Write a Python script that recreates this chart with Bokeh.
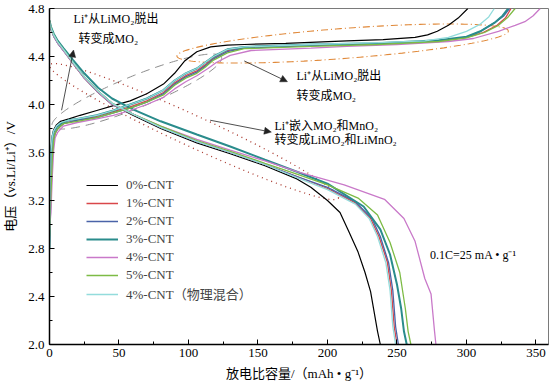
import numpy as np
from bokeh.plotting import figure
from bokeh.models import (Label, Arrow, NormalHead, Legend, LegendItem, FixedTicker,
                          PrintfTickFormatter, Range1d)
from bokeh.embed import file_html
from bokeh.resources import INLINE

# ---------------- data ----------------
names = ["0%-CNT", "1%-CNT", "2%-CNT", "3%-CNT", "4%-CNT", "5%-CNT", "4%-CNT（物理混合）"]
colors = ["#000000", "#d9474a", "#4a63a8", "#2a8c8c", "#c979c9", "#7dbb45", "#93dcdc"]
widths = [1.2, 1.3, 1.3, 2.0, 1.3, 1.3, 1.3]

# charge curves (capacity, voltage)
c0_x = [0, 0.5, 1, 2, 3, 5, 8, 14, 22, 34, 46, 58, 70, 82, 90, 97, 106, 116, 128, 140, 170, 214, 240, 263, 272, 279, 287, 294, 301]
c0_y = [2.95, 3.3, 3.6, 3.74, 3.79, 3.83, 3.86, 3.88, 3.91, 3.95, 3.99, 4.03, 4.09, 4.17, 4.26, 4.36, 4.44, 4.48, 4.495, 4.50, 4.51, 4.53, 4.54, 4.56, 4.58, 4.61, 4.66, 4.72, 4.80]
c1_x = [0, 1, 2, 3, 4, 6, 10, 20, 34, 46, 58, 70, 82, 90, 98, 106, 112, 118, 128, 140, 188, 236, 280, 300, 312, 322, 328, 332]
c1_y = [2.90, 3.25, 3.55, 3.70, 3.76, 3.80, 3.84, 3.87, 3.90, 3.94, 3.98, 4.03, 4.10, 4.18, 4.24, 4.28, 4.33, 4.39, 4.45, 4.475, 4.49, 4.505, 4.53, 4.56, 4.60, 4.66, 4.72, 4.80]
c2_x = [0, 1, 2, 3, 4, 6, 10, 20, 34, 46, 58, 70, 82, 90, 98, 106, 112, 118, 128, 140, 188, 236, 280, 300, 310, 320, 327, 331]
c2_y = [2.85, 3.20, 3.55, 3.70, 3.76, 3.80, 3.84, 3.87, 3.89, 3.93, 3.97, 4.02, 4.09, 4.17, 4.23, 4.27, 4.32, 4.38, 4.44, 4.47, 4.49, 4.505, 4.53, 4.56, 4.61, 4.68, 4.74, 4.80]
c3_x = [0, 0.5, 1, 2, 3, 5, 8, 14, 20, 34, 46, 58, 70, 82, 90, 98, 106, 112, 118, 128, 140, 188, 236, 280, 300, 310, 320, 326, 330]
c3_y = [2.80, 3.3, 3.6, 3.72, 3.77, 3.81, 3.84, 3.87, 3.88, 3.91, 3.95, 4.00, 4.05, 4.12, 4.20, 4.26, 4.30, 4.35, 4.40, 4.46, 4.48, 4.50, 4.51, 4.535, 4.565, 4.61, 4.68, 4.74, 4.80]
c4_x = [0, 1, 2, 3, 4, 6, 10, 20, 34, 46, 58, 70, 82, 90, 98, 106, 114, 120, 130, 145, 188, 214, 250, 287, 305, 323, 335, 342, 348, 353]
c4_y = [2.95, 3.1, 3.4, 3.62, 3.72, 3.77, 3.82, 3.85, 3.88, 3.91, 3.95, 4.00, 4.06, 4.13, 4.19, 4.24, 4.30, 4.35, 4.41, 4.45, 4.47, 4.485, 4.50, 4.525, 4.55, 4.61, 4.66, 4.69, 4.74, 4.80]
c5_x = [0, 1, 2, 3, 4, 6, 10, 20, 34, 46, 58, 70, 82, 90, 98, 106, 112, 118, 128, 140, 188, 236, 280, 300, 313, 323, 330, 335]
c5_y = [2.90, 3.25, 3.55, 3.70, 3.76, 3.80, 3.84, 3.86, 3.89, 3.93, 3.97, 4.02, 4.08, 4.16, 4.22, 4.26, 4.31, 4.37, 4.43, 4.465, 4.485, 4.50, 4.525, 4.555, 4.60, 4.66, 4.73, 4.80]
c6_x = [0, 0.5, 1, 2, 3, 5, 8, 14, 20, 34, 46, 58, 70, 82, 90, 98, 106, 112, 118, 128, 140, 188, 236, 270, 287, 300, 310, 316, 320]
c6_y = [2.85, 3.3, 3.6, 3.73, 3.78, 3.82, 3.85, 3.87, 3.88, 3.91, 3.95, 4.00, 4.05, 4.12, 4.20, 4.26, 4.30, 4.35, 4.40, 4.46, 4.48, 4.50, 4.515, 4.53, 4.56, 4.61, 4.67, 4.73, 4.80]

# discharge curves
d0_x = [0, 1, 3, 6, 10, 17, 25, 35, 45, 60, 80, 106, 130, 155, 178, 188, 200, 209, 215, 222, 227, 231, 236, 238]
d0_y = [4.69, 4.63, 4.57, 4.51, 4.45, 4.34, 4.22, 4.10, 4.00, 3.91, 3.80, 3.68, 3.59, 3.49, 3.38, 3.31, 3.20, 3.10, 2.95, 2.77, 2.60, 2.44, 2.11, 2.00]
d1_x = [0, 1, 3, 6, 10, 17, 25, 35, 45, 60, 80, 106, 130, 155, 178, 200, 220, 231, 237, 243, 246, 248, 250]
d1_y = [4.70, 4.64, 4.58, 4.52, 4.46, 4.35, 4.23, 4.11, 4.01, 3.92, 3.81, 3.69, 3.60, 3.50, 3.40, 3.30, 3.18, 3.05, 2.90, 2.69, 2.45, 2.15, 2.00]
d2_x = [0, 1, 3, 6, 10, 17, 25, 35, 45, 60, 80, 106, 130, 155, 178, 200, 220, 232, 238, 244, 247, 249, 251]
d2_y = [4.69, 4.63, 4.57, 4.51, 4.45, 4.35, 4.23, 4.11, 4.01, 3.92, 3.81, 3.69, 3.60, 3.50, 3.40, 3.31, 3.19, 3.05, 2.90, 2.68, 2.45, 2.15, 2.00]
d3_x = [0, 1, 3, 6, 10, 17, 25, 35, 45, 60, 80, 106, 130, 155, 178, 200, 226, 238, 245, 250, 253, 255, 257]
d3_y = [4.70, 4.65, 4.59, 4.53, 4.47, 4.37, 4.26, 4.14, 4.05, 3.96, 3.86, 3.75, 3.65, 3.54, 3.44, 3.34, 3.15, 2.96, 2.75, 2.50, 2.30, 2.11, 2.00]
d4_x = [0, 1, 3, 6, 10, 17, 25, 35, 45, 60, 80, 106, 130, 155, 178, 212, 241, 255, 263, 270, 274.5, 277, 278]
d4_y = [4.69, 4.63, 4.57, 4.51, 4.45, 4.34, 4.22, 4.10, 4.00, 3.92, 3.82, 3.71, 3.62, 3.53, 3.44, 3.33, 3.21, 3.05, 2.86, 2.55, 2.42, 2.11, 2.00]
d5_x = [0, 1, 3, 6, 10, 17, 25, 35, 45, 60, 80, 106, 130, 155, 178, 200, 222, 236, 245, 252, 256, 258, 260]
d5_y = [4.70, 4.64, 4.58, 4.52, 4.46, 4.35, 4.23, 4.11, 4.01, 3.92, 3.82, 3.70, 3.61, 3.51, 3.42, 3.33, 3.22, 3.08, 2.85, 2.60, 2.30, 2.11, 2.00]
d6_x = [0, 1, 3, 6, 10, 17, 25, 35, 45, 60, 80, 106, 130, 155, 178, 200, 220, 230, 236, 242, 245, 247, 249]
d6_y = [4.70, 4.64, 4.58, 4.52, 4.46, 4.35, 4.23, 4.11, 4.01, 3.92, 3.81, 3.69, 3.60, 3.50, 3.39, 3.29, 3.17, 3.05, 2.90, 2.68, 2.45, 2.15, 2.00]

charge = [(c0_x, c0_y), (c1_x, c1_y), (c2_x, c2_y), (c3_x, c3_y), (c4_x, c4_y), (c5_x, c5_y), (c6_x, c6_y)]
discharge = [(d0_x, d0_y), (d1_x, d1_y), (d2_x, d2_y), (d3_x, d3_y), (d4_x, d4_y), (d5_x, d5_y), (d6_x, d6_y)]

x_ticks = [0, 50, 100, 150, 200, 250, 300, 350]
x_minor = [25, 75, 125, 175, 225, 275, 325]
y_ticks = [2.0, 2.4, 2.8, 3.2, 3.6, 4.0, 4.4, 4.8]
y_minor = [2.2, 2.6, 3.0, 3.4, 3.8, 4.2, 4.6]

# annotations: (text, x, y)
notes = [("Li⁺从LiMO₂脱出", 17.3, 4.709), ("转变成MO₂", 20.9, 4.545),
         ("Li⁺从LiMO₂脱出", 177.7, 4.240), ("转变成MO₂", 177.7, 4.075),
         ("Li⁺嵌入MO₂和MnO₂", 161.8, 3.820), ("转变成LiMO₂和LiMnO₂", 161.8, 3.704),
         ("0.1C=25 mA • g⁻¹", 273.8, 2.749)]
arrows = [(8.7, 3.952, 17.3, 4.454), (140.1, 4.363, 171.2, 4.190), (115.6, 3.869, 159.6, 3.770)]
# ellipses: centre (data), semi-axes (px), angle (deg), colour, dash
ellipses = [(210.9, 4.508, 167.5, 15, 4.3, "#e0893a", "7 3 1 3", 1.1),
            (62.8, 4.108, 92, 16, 22, "#8c8c8c", "9 6", 1.0),
            (104.0, 3.774, 160, 15.5, -24.6, "#a8352a", "1 4", 1.3)]

FONT = "Liberation Serif, Noto Sans CJK SC"
W, H = 550, 389
BL, BR, BT, BB = 45, 2, 8, 45
X0, X1, Y0, Y1 = 0, 359, 2.0, 4.8
SX = (W - BL - BR) / (X1 - X0)
SY = (H - BT - BB) / (Y1 - Y0)

p = figure(width=W, height=H, x_range=Range1d(X0, X1), y_range=Range1d(Y0, Y1),
           output_backend="svg", toolbar_location=None,
           min_border_left=BL, min_border_right=BR, min_border_top=BT, min_border_bottom=BB)
p.grid.visible = False
p.outline_line_color = "#7a7a7a"
p.outline_line_width = 1
p.background_fill_color = "white"
p.border_fill_color = "white"

for ax in (p.xaxis[0], p.yaxis[0]):
    ax.axis_line_color = "black"
    ax.axis_line_width = 1.5
    ax.major_tick_in = 5
    ax.major_tick_out = 0
    ax.minor_tick_in = 3
    ax.minor_tick_out = 0
    ax.major_tick_line_color = "black"
    ax.minor_tick_line_color = "black"
    ax.major_label_text_font = FONT
    ax.major_label_text_font_size = "13px"
    ax.major_label_text_color = "black"
    ax.axis_label_text_font = FONT
    ax.axis_label_text_font_size = "13px"
    ax.axis_label_text_font_style = "normal"
    ax.axis_label_text_color = "black"

p.xaxis.ticker = FixedTicker(ticks=x_ticks, minor_ticks=x_minor)
p.yaxis.ticker = FixedTicker(ticks=y_ticks, minor_ticks=y_minor)
p.yaxis.formatter = PrintfTickFormatter(format="%.1f")
p.xaxis.major_label_standoff = 4
p.yaxis.major_label_standoff = 5
p.xaxis.axis_label = "放电比容量/（mAh • g⁻¹）"
p.yaxis.axis_label = "电压（vs.Li/Li⁺）/V"
p.xaxis.axis_label_standoff = 6
p.yaxis.axis_label_standoff = 7

# annotation ellipses
t = np.linspace(0, 2 * np.pi, 240)
for cx, cy, a, b, ang, col, dash, lw in ellipses:
    th = np.deg2rad(ang)
    dx = a * np.cos(t) * np.cos(th) - b * np.sin(t) * np.sin(th)
    dy = a * np.cos(t) * np.sin(th) + b * np.sin(t) * np.cos(th)
    p.line(cx + dx / SX, cy + dy / SY, line_color=col, line_dash=dash, line_width=lw)

items = []
for i in range(7):
    cx_, cy_ = charge[i]
    dx_, dy_ = discharge[i]
    r1 = p.line(cx_, cy_, line_color=colors[i], line_width=widths[i])
    r2 = p.line(dx_, dy_, line_color=colors[i], line_width=widths[i])
    items.append(LegendItem(label=names[i], renderers=[r2]))

legend = Legend(items=items, location=(37, 41), padding=0, margin=0, spacing=0,
                glyph_width=32, glyph_height=18, label_height=18, label_standoff=8,
                label_text_font=FONT, label_text_font_size="13px",
                border_line_color=None, background_fill_alpha=0)
p.add_layout(legend)

for x0, y0, x1, y1 in arrows:
    p.add_layout(Arrow(x_start=x0, y_start=y0, x_end=x1, y_end=y1, line_width=0.8,
                       line_color="#222222",
                       end=NormalHead(size=7, fill_color="#222222", line_color="#222222", line_width=0.5)))

for txt, x, y in notes:
    p.add_layout(Label(x=x, y=y, text=txt, text_font=FONT, text_font_size="12px",
                       text_align="left", text_baseline="middle", text_color="black"))

open("out.html", "w").write(file_html(p, INLINE))
